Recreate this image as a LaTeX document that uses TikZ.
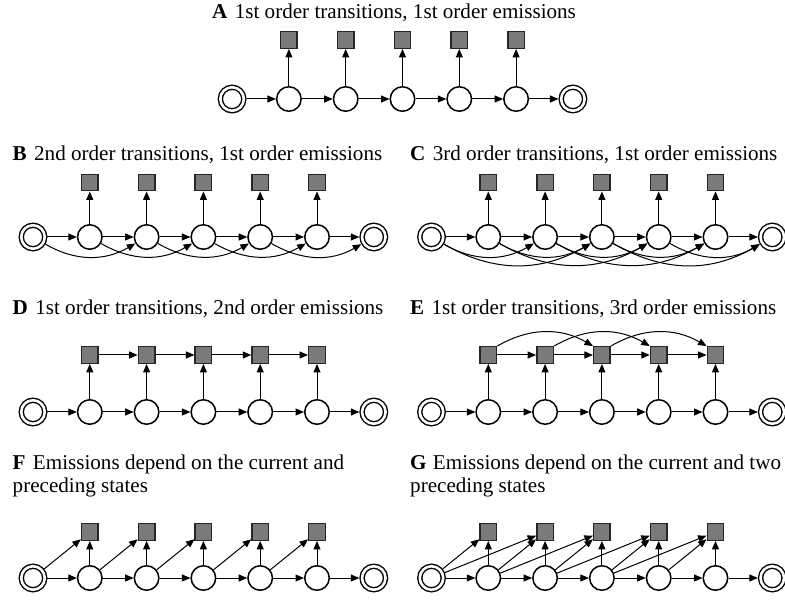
\documentclass[tikz,border=0pt]{standalone}
\usepackage{fontspec}
\setmainfont{Liberation Serif}
\usetikzlibrary{arrows.meta}
\tikzset{
  state/.style={circle,draw=black,fill=white,line width=1.5pt,minimum size=24.5pt,inner sep=0pt},
  dstate/.style={circle,draw=black,fill=white,line width=1.4pt,double=white,double distance=2.6pt,minimum size=23.5pt,inner sep=0pt,outer sep=2.7pt},
  emit/.style={rectangle,draw=black!85,fill=black!52,line width=1.4pt,minimum size=16.5pt,inner sep=0pt},
  arr/.style={-{Triangle[length=8.5pt,width=7pt]},line width=1pt,black},
  ttl/.style={anchor=base west,inner sep=0pt,font=\fontsize{21.1}{24}\selectfont},
}
\newcommand\mkpanel[4]{%
  \node[dstate] (#1s0) at (#2,-#4) {};
  \foreach \k in {1,...,5}{%
    \node[state] (#1s\k) at ({#2+56.8*\k},-#4) {};
    \node[emit] (#1q\k) at ({#2+56.8*\k},-#3) {};
    \draw[arr] (#1s\k) -- (#1q\k);
  }%
  \node[dstate] (#1s6) at ({#2+56.8*6},-#4) {};
  \foreach \k [evaluate=\k as \j using int(\k+1)] in {0,...,5}{%
    \draw[arr] (#1s\k) -- (#1s\j);
  }%
}
\begin{document}
\begin{tikzpicture}[x=1pt,y=1pt]
\useasboundingbox (0,0) rectangle (785,-601);
% titles
\node[ttl] (tA) at (212,-19) {\textbf{A}\hspace{0.35em}1st order transitions, 1st order emissions};
\node[ttl] (tB) at (12.5,-161) {\textbf{B}\hspace{0.35em}2nd order transitions, 1st order emissions};
\node[ttl] (tC) at (410,-161) {\textbf{C}\hspace{0.35em}3rd order transitions, 1st order emissions};
\node[ttl] (tD) at (12.5,-315) {\textbf{D}\hspace{0.35em}1st order transitions, 2nd order emissions};
\node[ttl] (tE) at (410,-315) {\textbf{E}\hspace{0.35em}1st order transitions, 3rd order emissions};
\node[ttl] (tF) at (12.5,-470) {\textbf{F}\hspace{0.35em}Emissions depend on the current and};
\node[ttl] (tF2) at (12.5,-493) {preceding states};
\node[ttl] (tG) at (410,-470) {\textbf{G}\hspace{0.3em}Emissions depend on the current and two};
\node[ttl] (tG2) at (410,-493) {preceding states};
% panels
\mkpanel{A}{232.1}{40}{99}
\mkpanel{B}{33}{182.5}{237}
\mkpanel{C}{431.5}{182.5}{237}
\mkpanel{D}{33}{355}{412}
\mkpanel{E}{431.5}{355}{412}
\mkpanel{F}{33}{532}{578}
\mkpanel{G}{431.5}{532}{578}
% B: second order transitions
\foreach \k [evaluate=\k as \j using int(\k+2)] in {0,...,4}{%
  \draw[arr] (Bs\k) to[out=-30,in=-150] (Bs\j);
}
% C: third order transitions
\foreach \k [evaluate=\k as \j using int(\k+2)] in {0,...,4}{%
  \draw[arr] (Cs\k) to[out=-30,in=-150] (Cs\j);
}
\foreach \k [evaluate=\k as \j using int(\k+3)] in {0,...,3}{%
  \draw[arr] (Cs\k) to[out=-30,in=-150] (Cs\j);
}
% D, E: emission chains
\foreach \k [evaluate=\k as \j using int(\k+1)] in {1,...,4}{%
  \draw[arr] (Dq\k) -- (Dq\j);
  \draw[arr] (Eq\k) -- (Eq\j);
}
\foreach \k [evaluate=\k as \j using int(\k+2)] in {1,...,3}{%
  \draw[arr] (Eq\k.north east) to[out=30,in=150] (Eq\j.north west);
}
% F, G: emissions from preceding states
\foreach \k [evaluate=\k as \i using int(\k-1)] in {1,...,5}{%
  \draw[arr] (Fs\i) -- (Fq\k);
  \draw[arr] (Gs\i) -- (Gq\k);
}
\foreach \k [evaluate=\k as \i using int(\k-2)] in {2,...,5}{%
  \draw[arr] (Gs\i) -- (Gq\k);
}
\end{tikzpicture}
\end{document}
